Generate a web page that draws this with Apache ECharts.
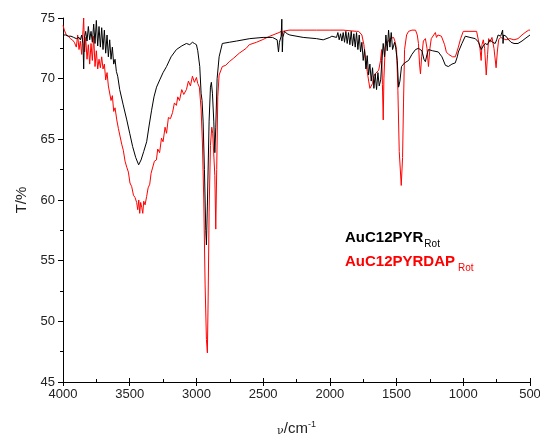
<!DOCTYPE html>
<html>
<head>
<meta charset="utf-8">
<script src="https://cdn.jsdelivr.net/npm/echarts@6/dist/echarts.min.js"></script>
<style>
  html, body { margin: 0; padding: 0; background: #fff; }
  #chart { width: 540px; height: 437px; }
</style>
</head>
<body>
<div id="chart"></div>
<script>
// IR transmission spectra, wavenumber (cm^-1) vs transmittance (%)
const seriesNames = ['AuC12PYR', 'AuC12PYRDAP'];

const pyrWavenumber = [
  4000, 3980, 3960, 3940, 3920, 3900, 3880, 3870, 3860, 3850, 3845, 3840, 3830, 3820, 3810, 3800,
  3790, 3780, 3770, 3760, 3750, 3740, 3730, 3720, 3710, 3700, 3690, 3680, 3670, 3660, 3650, 3640,
  3630, 3620, 3610, 3600, 3590, 3575, 3550, 3522, 3500, 3478, 3455, 3433, 3415, 3395, 3373, 3355,
  3336, 3318, 3299, 3275, 3250, 3224, 3190, 3150, 3110, 3075, 3050, 3030, 3015, 3000, 2990, 2975,
  2965, 2958, 2950, 2940, 2930, 2925, 2918, 2905, 2895, 2888, 2880, 2870, 2862, 2855, 2845, 2830,
  2806, 2754, 2700, 2600, 2500, 2430, 2395, 2385, 2378, 2365, 2360, 2356, 2352, 2340, 2320, 2300,
  2200, 2100, 2050, 2000, 1985, 1950, 1940, 1930, 1920, 1910, 1900, 1890, 1880, 1870, 1860, 1850,
  1840, 1830, 1820, 1810, 1800, 1790, 1780, 1770, 1760, 1750, 1740, 1730, 1720, 1710, 1700, 1690,
  1680, 1670, 1660, 1650, 1640, 1630, 1619, 1610, 1600, 1590, 1580, 1570, 1560, 1550, 1540, 1530,
  1515, 1507, 1495, 1485, 1475, 1463, 1440, 1410, 1385, 1358, 1336, 1310, 1295, 1284, 1272, 1261,
  1230, 1187, 1160, 1134, 1112, 1085, 1060, 1045, 1037, 1010, 985, 950, 910, 885, 866, 850,
  836, 820, 800, 780, 761, 750, 739, 720, 705, 702, 698, 680, 660, 642, 620, 590,
  560, 537, 500
];
const pyrTransmittance = [
  73.6, 73.6, 73.5, 73.5, 73.4, 73.3, 73.4, 73.2, 73.6, 72.9, 70.8, 73.3, 73.9, 73.1, 74.3, 73.2,
  73.9, 73.0, 74.5, 72.9, 74.8, 72.7, 74.3, 72.6, 74.2, 72.4, 74.0, 72.1, 73.6, 71.8, 73.2, 71.6,
  72.6, 71.2, 71.6, 70.6, 70.2, 69.1, 67.9, 66.6, 65.5, 64.4, 63.5, 62.9, 63.3, 64.0, 64.8, 66.1,
  67.4, 68.5, 69.3, 69.9, 70.5, 71.0, 71.8, 72.4, 72.7, 72.9, 72.8, 73.0, 72.9, 72.8, 72.3, 71.0,
  68.8, 68.2, 66.5, 62.5, 57.5, 56.3, 59.5, 66.5, 69.3, 69.7, 68.8, 66.5, 63.9, 66.0, 70.0, 71.8,
  72.9, 73.0, 73.1, 73.3, 73.4, 73.4, 73.2, 72.2, 73.0, 73.5, 74.9, 72.2, 73.4, 73.9, 73.7, 73.6,
  73.4, 73.3, 73.2, 73.4, 73.5, 73.4, 73.8, 73.2, 73.7, 73.1, 73.8, 73.0, 73.9, 72.9, 73.8, 72.8,
  73.9, 72.7, 73.7, 72.6, 73.8, 72.4, 73.6, 72.2, 73.0, 71.5, 72.4, 70.8, 71.9, 70.3, 71.2, 69.8,
  70.9, 69.2, 70.4, 69.1, 70.5, 69.4, 69.9, 71.5, 72.9, 71.8, 73.6, 72.3, 74.0, 72.6, 73.8, 72.4,
  73.0, 72.6, 71.5, 69.3, 69.8, 71.0, 71.3, 71.5, 72.0, 72.4, 72.5, 72.3, 71.6, 71.4, 72.0, 72.4,
  72.3, 72.2, 71.8, 71.1, 71.0, 71.2, 71.3, 71.8, 72.2, 72.9, 73.5, 73.4, 73.3, 73.0, 72.4, 72.7,
  72.9, 72.8, 73.2, 73.0, 72.9, 73.2, 73.6, 73.5, 74.0, 72.9, 73.6, 73.5, 73.2, 73.0, 72.9, 72.9,
  73.1, 73.3, 73.6
];

const dapWavenumber = [
  4000, 3990, 3975, 3960, 3945, 3930, 3915, 3900, 3890, 3880, 3870, 3860, 3850, 3845, 3838, 3830,
  3820, 3810, 3800, 3790, 3780, 3770, 3760, 3750, 3740, 3730, 3720, 3710, 3700, 3690, 3680, 3670,
  3660, 3649, 3640, 3630, 3620, 3610, 3597, 3585, 3575, 3560, 3548, 3535, 3522, 3510, 3498, 3485,
  3472, 3460, 3448, 3440, 3432, 3425, 3418, 3410, 3402, 3395, 3385, 3373, 3362, 3350, 3340, 3328,
  3315, 3300, 3290, 3276, 3262, 3250, 3235, 3224, 3210, 3195, 3179, 3165, 3150, 3140, 3127, 3110,
  3095, 3075, 3060, 3045, 3030, 3015, 3000, 2990, 2978, 2965, 2955, 2945, 2935, 2925, 2918, 2912,
  2905, 2895, 2885, 2878, 2870, 2862, 2855, 2848, 2840, 2830, 2806, 2780, 2754, 2720, 2679, 2627,
  2604, 2550, 2507, 2450, 2381, 2365, 2360, 2352, 2306, 2200, 2100, 2000, 1900, 1800, 1784, 1760,
  1745, 1731, 1720, 1709, 1700, 1690, 1680, 1672, 1660, 1650, 1634, 1620, 1612, 1606, 1600, 1595,
  1585, 1574, 1550, 1522, 1510, 1500, 1490, 1480, 1465, 1455, 1448, 1440, 1425, 1410, 1385, 1358,
  1345, 1336, 1328, 1321, 1312, 1299, 1284, 1272, 1261, 1250, 1240, 1209, 1201, 1190, 1164, 1140,
  1127, 1110, 1097, 1080, 1060, 1048, 1037, 1020, 1000, 950, 900, 888, 875, 866, 860, 850,
  840, 828, 818, 810, 800, 785, 770, 754, 745, 735, 720, 700, 680, 650, 620, 590,
  560, 537, 510, 500
];
const dapTransmittance = [
  74.4, 74.0, 73.6, 73.5, 73.3, 73.2, 73.0, 72.6, 73.6, 72.4, 73.1, 72.0, 74.0, 75.0, 72.2, 73.4,
  71.6, 72.8, 71.2, 72.9, 71.5, 73.5, 71.0, 72.3, 70.8, 71.6, 70.9, 71.8, 70.8, 71.2, 69.9, 70.5,
  69.4, 69.3, 68.2, 68.6, 67.3, 67.6, 66.6, 65.9, 65.8, 64.6, 64.1, 63.2, 62.7, 62.3, 61.4, 61.1,
  60.4, 60.2, 59.8, 59.2, 60.0, 58.9, 59.8, 59.4, 58.9, 59.9, 59.6, 60.3, 61.0, 61.3, 62.2, 62.2,
  63.2, 63.3, 64.2, 63.9, 65.1, 64.8, 66.0, 65.5, 66.8, 66.7, 67.2, 68.0, 67.8, 68.5, 68.2, 69.1,
  68.7, 69.1, 69.8, 69.4, 70.2, 69.7, 70.1, 69.6, 69.3, 67.5, 64.7, 60.0, 53.0, 48.5, 47.4, 52.0,
  59.0, 64.5, 66.0, 65.5, 65.6, 62.0, 57.6, 62.5, 68.5, 70.3, 71.0, 71.1, 71.4, 71.7, 72.1, 72.5,
  72.8, 73.0, 73.2, 73.5, 73.8, 73.9, 73.5, 73.9, 74.0, 74.0, 74.0, 74.0, 74.0, 73.9, 73.9, 73.6,
  72.8, 71.5, 70.6, 69.8, 69.2, 69.1, 69.6, 70.2, 70.4, 70.3, 70.7, 71.5, 72.4, 69.5, 66.6, 70.0,
  72.6, 72.9, 73.3, 73.4, 73.0, 72.4, 69.0, 64.0, 61.2, 63.5, 68.0, 72.4, 73.6, 73.9, 74.0, 74.0,
  73.6, 72.9, 71.2, 70.4, 71.8, 73.1, 73.3, 72.5, 71.0, 72.5, 73.3, 73.8, 73.4, 73.6, 73.5, 72.8,
  72.2, 72.0, 72.0, 71.8, 71.8, 72.2, 72.6, 73.3, 73.9, 73.9, 73.9, 73.8, 72.5, 71.5, 72.8, 73.2,
  72.5, 70.3, 72.0, 73.3, 73.0, 73.4, 72.5, 70.9, 72.2, 73.2, 73.4, 73.3, 73.2, 73.3, 73.2, 73.3,
  73.6, 73.8, 74.0, 74.0
];

// Axis ranges
const xMin = 500, xMax = 4000, xStep = 500;
const yMin = 45, yMax = 75, yStep = 5;

const toPairs = (xs, ys) => xs.map((x, i) => [x, ys[i]]);

const chart = echarts.init(document.getElementById('chart'), null, { renderer: 'canvas' });
const labelFont = { fontFamily: 'Liberation Sans, Arial, sans-serif', fontSize: 13, color: '#222' };
const plainNumber = v => String(v);

chart.setOption({
  animation: false,
  backgroundColor: '#fff',
  grid: { left: 63, right: 10, top: 18, bottom: 55, containLabel: false, outerBoundsMode: 'none' },
  legend: {
    orient: 'vertical',
    left: 335,
    top: 222,
    icon: 'none',
    itemWidth: 0,
    itemHeight: 0,
    itemGap: 2,
    data: seriesNames,
    formatter: name => name === seriesNames[0]
      ? '{a|' + name + '}{as|Rot}'
      : '{b|' + name + '}{bs|Rot}',
    textStyle: {
      fontFamily: 'Liberation Sans, Arial, sans-serif',
      rich: {
        a: { fontSize: 15, fontWeight: 'bold', color: '#000', lineHeight: 18, fontFamily: 'Liberation Sans, Arial, sans-serif' },
        as: { fontSize: 10, color: '#000', lineHeight: 18, padding: [12, 0, 0, 1], fontFamily: 'Liberation Sans, Arial, sans-serif' },
        b: { fontSize: 15, fontWeight: 'bold', color: '#ff0000', lineHeight: 18, fontFamily: 'Liberation Sans, Arial, sans-serif' },
        bs: { fontSize: 10, color: '#ff0000', lineHeight: 18, padding: [12, 0, 0, 3], fontFamily: 'Liberation Sans, Arial, sans-serif' }
      }
    }
  },
  xAxis: [
    {
      type: 'value',
      min: xMin, max: xMax, interval: xStep,
      inverse: true,
      name: '{n|ν}/cm{s|-1}',
      nameLocation: 'middle',
      nameGap: 38,
      nameTextStyle: {
        fontFamily: 'Liberation Sans, Arial, sans-serif', fontSize: 15, color: '#222',
        rich: {
          n: { fontSize: 11, fontFamily: 'DejaVu Serif, serif', color: '#222', padding: [4, 0, 0, 0] },
          s: { fontSize: 9, color: '#222', padding: [0, 0, 9, 0], fontFamily: 'Liberation Sans, Arial, sans-serif' }
        }
      },
      axisLine: { show: true, onZero: false, lineStyle: { color: '#000', width: 1 } },
      axisTick: { show: true, length: 4, lineStyle: { color: '#000' } },
      minorTick: { show: false },
      axisLabel: Object.assign({ margin: 6, formatter: plainNumber }, labelFont),
      splitLine: { show: false }
    },
    {
      // inner tick marks along the bottom edge
      type: 'value',
      position: 'bottom',
      min: xMin, max: xMax, interval: xStep,
      inverse: true,
      axisLine: { show: false, onZero: false },
      axisTick: { show: true, inside: true, length: 4, lineStyle: { color: '#000' } },
      minorTick: { show: true, splitNumber: 2, length: 3, lineStyle: { color: '#000' } },
      axisLabel: { show: false },
      splitLine: { show: false }
    }
  ],
  yAxis: {
    type: 'value',
    min: yMin, max: yMax, interval: yStep,
    name: 'T/%',
    nameLocation: 'middle',
    nameGap: 32,
    nameTextStyle: { fontFamily: 'Liberation Sans, Arial, sans-serif', fontSize: 15, color: '#222' },
    axisLine: { show: true, onZero: false, lineStyle: { color: '#000', width: 1 } },
    axisTick: { show: true, length: 5, lineStyle: { color: '#000' } },
    minorTick: { show: true, splitNumber: 2, length: 3, lineStyle: { color: '#000' } },
    axisLabel: Object.assign({ margin: 8, formatter: plainNumber }, labelFont),
    splitLine: { show: false }
  },
  series: [
    {
      name: seriesNames[0],
      type: 'line',
      xAxisIndex: 0,
      data: toPairs(pyrWavenumber, pyrTransmittance),
      showSymbol: false,
      lineStyle: { color: '#000', width: 1 },
      itemStyle: { color: '#000' },
      z: 3
    },
    {
      name: seriesNames[1],
      type: 'line',
      xAxisIndex: 0,
      data: toPairs(dapWavenumber, dapTransmittance),
      showSymbol: false,
      lineStyle: { color: '#ff0000', width: 1 },
      itemStyle: { color: '#ff0000' },
      z: 2
    }
  ]
});
</script>
</body>
</html>
